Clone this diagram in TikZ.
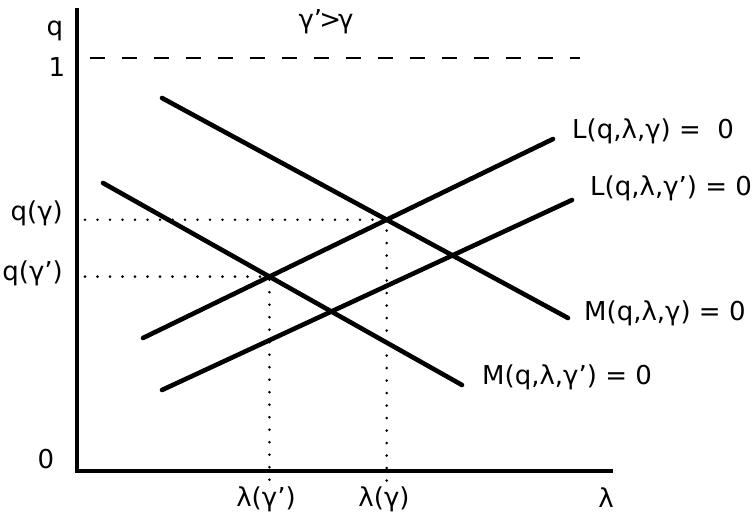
\documentclass[tikz,border=0pt]{standalone}
\usepackage{fontspec}
\setmainfont{DejaVu Sans}
\begin{document}
\begin{tikzpicture}[x=1pt,y=-1pt,
  curve/.style={line width=4.6pt,line cap=round},
  axis/.style={line width=3.3pt},
  guide/.style={line width=2.8pt,line cap=round,dash pattern=on 0pt off 12.5pt},
  limit/.style={line width=2.6pt,dash pattern=on 15pt off 17pt},
  lbl/.style={font=\fontsize{26}{28}\selectfont,inner sep=0pt}]
\useasboundingbox (0,0) rectangle (752,514);
% axes
\coordinate (ytop) at (77,8);
\coordinate (orig) at (77,471);
\coordinate (xend) at (613,471);
\draw[axis] (ytop) -- (orig) -- (xend);
% q = 1 limit
\coordinate (d1) at (90,58);
\coordinate (d2) at (580,58);
\draw[limit] (d1) -- (d2);
% curves
\coordinate (Ma) at (162,98);   \coordinate (Mb) at (568,318);
\coordinate (Npa) at (103,183); \coordinate (Npb) at (462,385);
\coordinate (La) at (143,338);  \coordinate (Lb) at (553,139);
\coordinate (Lpa) at (162,390); \coordinate (Lpb) at (572,200);
\draw[curve] (Ma) -- (Mb);
\draw[curve] (Npa) -- (Npb);
\draw[curve] (La) -- (Lb);
\draw[curve] (Lpa) -- (Lpb);
% equilibria
\path (intersection of Ma--Mb and La--Lb) coordinate (E1);
\path (intersection of Npa--Npb and La--Lb) coordinate (E2);
\coordinate (q1) at (orig |- E1);
\coordinate (q2) at (orig |- E2);
\coordinate (l1) at (E1 |- orig);
\coordinate (l2) at (E2 |- orig);
\draw[guide] ([xshift=8pt]q1) -- (E1) -- ([yshift=-10pt]l1);
\draw[guide] ([xshift=8pt]q2) -- (E2) -- ([yshift=-10pt]l2);
% labels
\node[lbl] (tq) at (55,31) {q};
\node[lbl] (t1) at (57,67) {1};
\node[lbl] (tg) at (326,22) {γ'\kern-3pt>\kern-3ptγ};
\node[lbl,anchor=east] (tqg) at (63,213) {q(γ)};
\node[lbl,anchor=east] (tqgp) at (63,273) {q(γ')};
\node[lbl] (t0) at (46,459) {0};
\node[lbl] (tlgp) at (266,499) {λ(γ')};
\node[lbl] (tlg) at (384,499) {λ(γ)};
\node[lbl] (tl) at (606,498) {λ};
\node[lbl,anchor=west] (tL) at (572,131) {L(q,λ,γ) =\ \ 0};
\node[lbl,anchor=west] (tLp) at (590,188) {L(q,λ,γ') = 0};
\node[lbl,anchor=west] (tM) at (584,313) {M(q,λ,γ) = 0};
\node[lbl,anchor=west] (tMp) at (482,377) {M(q,λ,γ') = 0};
\end{tikzpicture}
\end{document}
